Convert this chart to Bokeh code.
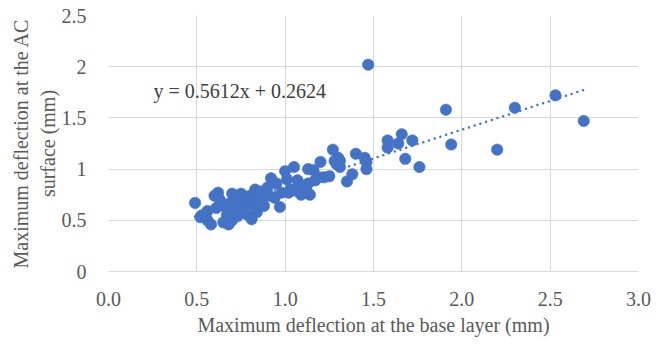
from bokeh.plotting import figure
from bokeh.models import ColumnDataSource, FixedTicker, PrintfTickFormatter, Range1d
from bokeh.core.properties import value
from bokeh.embed import file_html
from bokeh.resources import INLINE

# Maximum deflection at the base layer (mm)
base_deflection = [
    0.49, 0.52, 0.53, 0.56, 0.58, 0.56, 0.60, 0.62, 0.63, 0.65, 0.66, 0.68, 0.68, 0.70,
    0.70, 0.71, 0.72, 0.73, 0.74, 0.75, 0.76, 0.77, 0.78, 0.79, 0.80, 0.81, 0.82, 0.83,
    0.84, 0.85, 0.86, 0.88, 0.88, 0.90, 0.91, 0.92, 0.94, 0.95, 0.97, 0.98, 0.61, 0.67,
    0.72, 0.75,
    1.00, 1.01, 1.02, 1.03, 1.05, 1.06, 1.07, 1.09, 1.10, 1.12, 1.13, 1.13, 1.14, 1.16,
    1.17, 1.19, 1.20, 1.22, 1.25, 1.27, 1.28, 1.29, 1.30, 1.31, 1.31, 1.35, 1.38, 1.40,
    1.45, 1.46, 1.46, 1.47,
    1.58, 1.58, 1.64, 1.66, 1.68, 1.72, 1.76, 1.91, 1.94, 2.20, 2.30, 2.53, 2.69,
]
# Maximum deflection at the AC surface (mm)
surface_deflection = [
    0.67, 0.53, 0.55, 0.50, 0.46, 0.59, 0.74, 0.77, 0.70, 0.48, 0.63, 0.46, 0.66, 0.50,
    0.76, 0.72, 0.60, 0.54, 0.68, 0.76, 0.62, 0.71, 0.56, 0.67, 0.74, 0.51, 0.65, 0.80,
    0.58, 0.70, 0.78, 0.73, 0.64, 0.82, 0.74, 0.91, 0.72, 0.86, 0.63, 0.77, 0.62, 0.55,
    0.67, 0.58,
    0.98, 0.90, 0.77, 0.80, 1.02, 0.79, 0.89, 0.75, 0.80, 0.79, 1.00, 0.86, 0.75, 0.99,
    0.89, 0.92, 1.07, 0.92, 0.93, 1.19, 1.08, 1.05, 1.11, 1.02, 1.08, 0.88, 0.95, 1.15,
    1.11, 1.07, 1.00, 2.02,
    1.28, 1.21, 1.25, 1.34, 1.10, 1.28, 1.02, 1.58, 1.24, 1.19, 1.60, 1.72, 1.47,
]

# Linear trendline
slope = 0.5612
intercept = 0.2624
trend_label = "y = 0.5612x + 0.2624"

x_ticks = [0.0, 0.5, 1.0, 1.5, 2.0, 2.5, 3.0]
y_ticks = [0, 0.5, 1, 1.5, 2, 2.5]
y_tick_labels = ["0", "0.5", "1", "1.5", "2", "2.5"]

blue = "#4472C4"
grid = "#d9d9d9"
text_gray = "#595959"
font = "Liberation Serif"

p = figure(
    width=657, height=344,
    output_backend="svg", toolbar_location=None,
    x_range=Range1d(0, 3), y_range=Range1d(0, 2.5),
    min_border_left=108, min_border_right=19, min_border_top=15, min_border_bottom=73,
)
p.outline_line_color = None
p.background_fill_color = "white"
p.border_fill_color = "white"

# dotted trendline over the span of the data
x0, x1 = min(base_deflection), max(base_deflection)
p.line([x0, x1], [slope * x0 + intercept, slope * x1 + intercept],
       line_color=blue, line_width=2.5, line_dash="0 6", line_cap="round")

src = ColumnDataSource(dict(x=base_deflection, y=surface_deflection))
p.scatter("x", "y", source=src, size=11.5, fill_color=blue, line_color=blue, line_width=0.5)

p.text(x=[0.255], y=[1.765], text=[trend_label], text_font=value(font),
       text_font_size="20px", text_color="#404040",
       text_align="left", text_baseline="middle")

for ax in (p.xaxis[0], p.yaxis[0]):
    ax.major_tick_line_color = None
    ax.minor_tick_line_color = None
    ax.major_label_text_font = font
    ax.major_label_text_font_size = "20px"
    ax.major_label_text_color = text_gray
    ax.axis_label_text_font = font
    ax.axis_label_text_font_size = "20px"
    ax.axis_label_text_color = text_gray
    ax.axis_label_text_font_style = "normal"

p.xaxis.major_label_standoff = 14
p.yaxis.major_label_standoff = 16

p.xaxis.axis_line_color = grid
p.yaxis.axis_line_color = None

p.xaxis.ticker = FixedTicker(ticks=x_ticks)
p.xaxis.formatter = PrintfTickFormatter(format="%.1f")
p.yaxis.ticker = FixedTicker(ticks=y_ticks)
p.yaxis.major_label_overrides = {t: s for t, s in zip(y_ticks, y_tick_labels)}

p.xaxis.axis_label = "Maximum deflection at the base layer (mm)"
p.yaxis.axis_label = "Maximum deflection at the AC\nsurface (mm)"
p.xaxis.axis_label_standoff = 5
p.yaxis.axis_label_standoff = 0

p.xgrid.ticker = FixedTicker(ticks=x_ticks)
p.ygrid.ticker = FixedTicker(ticks=y_ticks)
p.xgrid.grid_line_color = grid
p.ygrid.grid_line_color = grid
p.xgrid.grid_line_width = 1
p.ygrid.grid_line_width = 1

open("out.html", "w").write(file_html(p, INLINE))
